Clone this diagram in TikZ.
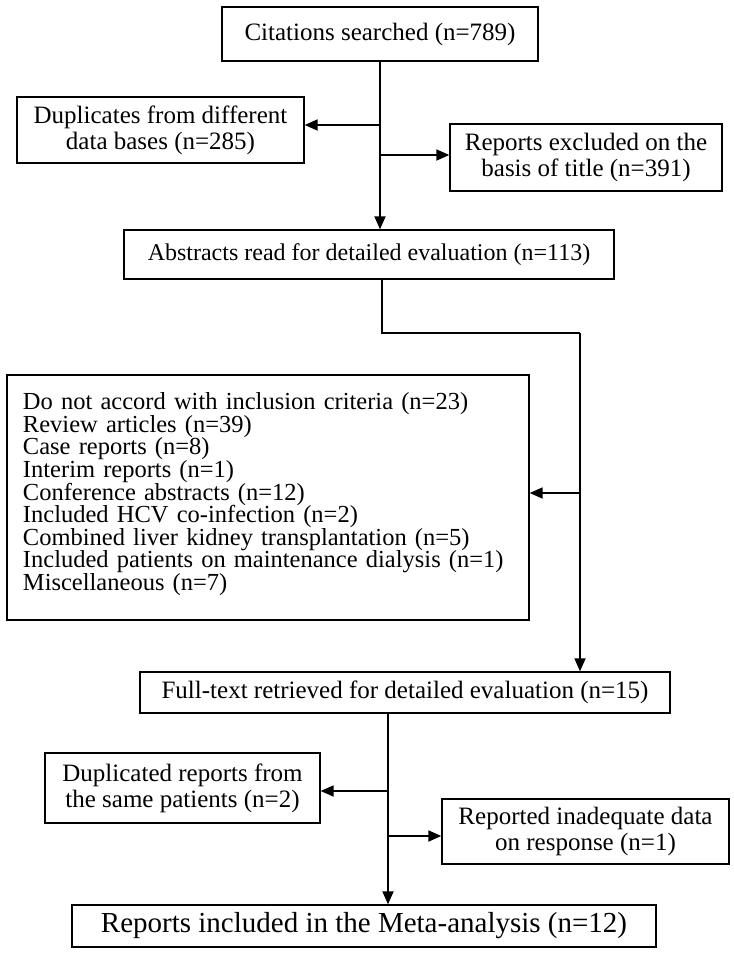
\documentclass[tikz,border=0pt]{standalone}
\usepackage{fontspec}
\setmainfont{Liberation Serif}
\usetikzlibrary{arrows.meta}
\begin{document}
\begin{tikzpicture}[x=1pt,y=-1pt,
  box/.style={draw, line width=1.3pt, inner sep=0pt, align=center, font=\fontsize{25}{26}\selectfont},
  conn/.style={line width=1.8pt},
  arr/.style={conn, -{Triangle[length=13pt,width=11pt]}}]
\useasboundingbox (0,0) rectangle (734,954);
\node[box, minimum width=316pt, minimum height=54pt] (cit) at (380,34) {Citations searched (n=789)};
\node[box, minimum width=287pt, minimum height=66pt] (dup) at (160.5,130) {Duplicates from different\\data bases (n=285)};
\node[box, minimum width=272pt, minimum height=67pt] (rep) at (586,157.5) {Reports excluded on the\\basis of title (n=391)};
\node[box, minimum width=490pt, minimum height=49pt, font=\fontsize{24}{26}\selectfont] (abs) at (369,254.5) {Abstracts read for detailed evaluation (n=113)};
\node[box, minimum height=245pt, text width=490pt, inner xsep=16pt, align=left, font=\fontsize{24.5}{22.6}\selectfont] (big) at (268,497.5) {Do not accord with inclusion criteria (n=23)\\Review articles (n=39)\\Case reports (n=8)\\Interim reports (n=1)\\Conference abstracts (n=12)\\Included HCV co-infection (n=2)\\Combined liver kidney transplantation (n=5)\\Included patients on maintenance dialysis (n=1)\\Miscellaneous (n=7)\rule[-12pt]{0pt}{0pt}};
\node[box, minimum width=530pt, minimum height=41pt] (full) at (405,692.5) {Full-text retrieved for detailed evaluation (n=15)};
\node[box, minimum width=275pt, minimum height=70pt] (dupr) at (182.5,788) {Duplicated reports from\\the same patients (n=2)};
\node[box, minimum width=287pt, minimum height=65pt] (inad) at (585.5,831.5) {Reported inadequate data\\on response (n=1)};
\node[box, minimum width=584pt, minimum height=42pt, font=\fontsize{29}{32}\selectfont] (final) at (364,926) {Reports included in the Meta-analysis (n=12)};
% connectors
\draw[arr] (cit.south) -- (cit.south |- abs.north);
\coordinate (j1) at (380,125);
\coordinate (j2) at (380,155);
\draw[arr] (j1) -- (j1 -| dup.east);
\draw[arr] (j2) -- (j2 -| rep.west);
\coordinate (e1) at (382,333);
\coordinate (e2) at (580,333);
\draw[conn] (abs.south -| e1) -- (e1) -- (e2);
\draw[arr] (e2) -- (e2 |- full.north);
\coordinate (j3) at (580,493);
\draw[arr] (j3) -- (j3 -| big.east);
\coordinate (k) at (388,713);
\draw[arr] (k) -- (k |- final.north);
\coordinate (j4) at (388,791);
\coordinate (j5) at (388,836);
\draw[arr] (j4) -- (j4 -| dupr.east);
\draw[arr] (j5) -- (j5 -| inad.west);
\end{tikzpicture}
\end{document}
